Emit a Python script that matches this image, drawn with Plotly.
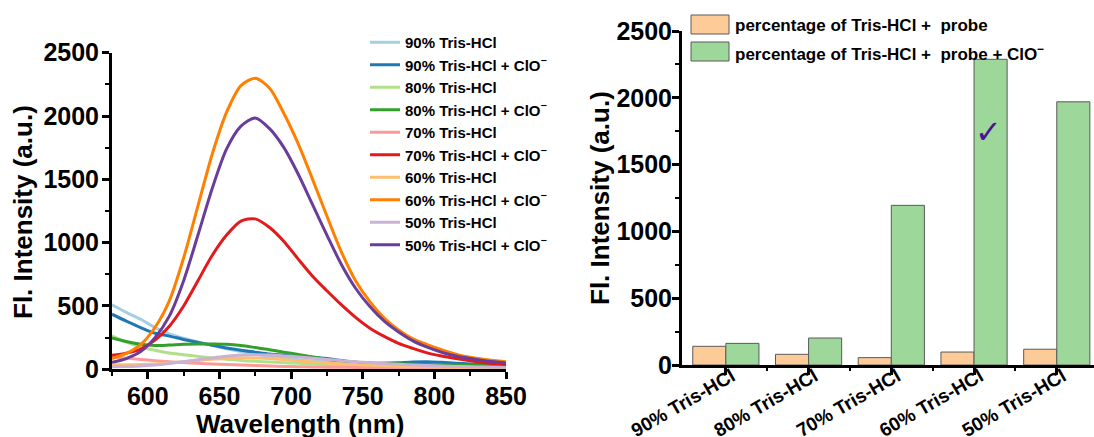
import plotly.graph_objects as go

# ---------------- data ----------------
wavelength = [575, 585, 595, 605, 615, 625, 635, 645, 655, 665, 675, 685, 695, 705,
              715, 725, 735, 745, 755, 765, 775, 785, 795, 805, 815, 825, 835, 845, 850]

tris90 = [510, 450, 395, 330, 280, 245, 215, 190, 162, 140, 120, 102, 88, 75,
          65, 57, 50, 44, 38, 34, 30, 27, 24, 22, 20, 18, 16, 15, 15]
tris90_clo = [435, 380, 330, 285, 262, 235, 212, 190, 168, 150, 135, 120, 112, 103,
              95, 85, 70, 55, 47, 48, 52, 58, 60, 55, 48, 42, 38, 35, 34]
tris80 = [265, 215, 178, 150, 128, 115, 102, 90, 80, 70, 63, 58, 52, 47,
          42, 37, 33, 29, 26, 23, 21, 19, 17, 16, 15, 14, 13, 12, 12]
tris80_clo = [248, 220, 198, 188, 192, 198, 200, 200, 198, 188, 172, 155, 135, 118,
              98, 80, 65, 56, 50, 47, 44, 40, 37, 35, 34, 33, 32, 31, 30]
tris70 = [100, 88, 78, 68, 60, 53, 47, 42, 38, 34, 30, 26, 23, 21,
          19, 17, 16, 15, 14, 13, 12, 12, 11, 11, 10, 10, 10, 10, 10]
tris70_clo = [110, 128, 160, 230, 340, 500, 700, 900, 1060, 1170, 1188, 1120, 1010, 870,
              735, 620, 510, 410, 325, 260, 205, 165, 130, 105, 85, 67, 52, 40, 35]
tris60 = [35, 35, 37, 42, 50, 60, 70, 80, 88, 92, 90, 85, 76, 67,
          58, 50, 43, 37, 32, 28, 24, 21, 19, 17, 15, 14, 13, 12, 12]
tris60_clo = [85, 125, 195, 330, 540, 880, 1290, 1700, 2030, 2240, 2298, 2220, 2020, 1780,
              1500, 1210, 930, 700, 535, 405, 310, 240, 195, 155, 120, 95, 78, 65, 60]
tris50 = [20, 22, 26, 34, 46, 60, 75, 90, 103, 112, 115, 112, 106, 98,
          88, 78, 68, 60, 52, 45, 39, 34, 30, 26, 23, 20, 18, 16, 15]
tris50_clo = [55, 85, 140, 250, 420, 700, 1060, 1430, 1740, 1920, 1985, 1900, 1750, 1540,
              1300, 1060, 830, 640, 495, 380, 295, 225, 175, 135, 105, 85, 68, 55, 50]

series_names = ["90% Tris-HCl", "90% Tris-HCl + ClO<sup>−</sup>",
                "80% Tris-HCl", "80% Tris-HCl + ClO<sup>−</sup>",
                "70% Tris-HCl", "70% Tris-HCl + ClO<sup>−</sup>",
                "60% Tris-HCl", "60% Tris-HCl + ClO<sup>−</sup>",
                "50% Tris-HCl", "50% Tris-HCl + ClO<sup>−</sup>"]
series_values = [tris90, tris90_clo, tris80, tris80_clo, tris70, tris70_clo,
                 tris60, tris60_clo, tris50, tris50_clo]
series_colors = ["#A6CEE3", "#1F78B4", "#B2DF8A", "#33A02C", "#FB9A99",
                 "#E31A1C", "#FDBF6F", "#FF7F00", "#CAB2D6", "#6A3D9A"]

categories = ["90% Tris-HCl", "80% Tris-HCl", "70% Tris-HCl", "60% Tris-HCl", "50% Tris-HCl"]
probe = [140, 80, 55, 97, 118]
probe_clo = [162, 202, 1195, 2288, 1970]

bar_names = ["percentage of Tris-HCl +  probe",
             "percentage of Tris-HCl +  probe + ClO<sup>−</sup>"]
bar_colors = ["#FDCB98", "#9DD79A"]

# ---------------- figure ----------------
W, H = 1094, 437
FONT = "Liberation Sans, Arial, sans-serif"


def fx(p):
    return p / W


def fy(p):
    return 1 - p / H


fig = go.Figure()

for name, vals, color in zip(series_names, series_values, series_colors):
    fig.add_trace(go.Scatter(
        x=wavelength, y=vals, mode="lines", name=name,
        line=dict(color=color, width=3, shape="spline", smoothing=0.8),
        xaxis="x", yaxis="y", legend="legend",
    ))

cat_pos = list(range(len(categories)))
for name, vals, color in zip(bar_names, [probe, probe_clo], bar_colors):
    fig.add_trace(go.Bar(
        x=cat_pos, y=vals, name=name, showlegend=False,
        marker=dict(color=color, line=dict(color="#5a5a5a", width=1)),
        xaxis="x2", yaxis="y2",
    ))

axis_common = dict(
    showline=True, linewidth=3, linecolor="black", mirror=False,
    ticks="outside", ticklen=7, tickwidth=2.5, tickcolor="black",
    showgrid=False, zeroline=False, automargin=False,
)

fig.update_layout(
    template="none",
    width=W, height=H,
    margin=dict(l=0, r=0, t=0, b=0, pad=0),
    paper_bgcolor="white", plot_bgcolor="white",
    font=dict(family=FONT, color="black", weight="bold"),
    barmode="group", bargap=0.2, bargroupgap=0,
    xaxis=dict(
        domain=[fx(112), fx(506)], range=[575, 850], anchor="y",
        tick0=600, dtick=50, tickfont=dict(size=25, weight="bold"), ticklabelstandoff=-4,
        minor=dict(dtick=25, tick0=575, ticks="outside", ticklen=4, tickwidth=2, tickcolor="black"),
        **axis_common,
    ),
    yaxis=dict(
        domain=[fy(369.3), fy(52.7)], range=[0, 2500], anchor="x",
        dtick=500, tickfont=dict(size=25, weight="bold"), ticklabelstandoff=-2,
        minor=dict(dtick=250, ticks="outside", ticklen=4, tickwidth=2, tickcolor="black"),
        **axis_common,
    ),
    xaxis2=dict(
        domain=[fx(682), 1.0], range=[-0.53, 4.45], anchor="y2",
        tickmode="array", tickvals=cat_pos, ticktext=categories, tickangle=-30,
        tickfont=dict(size=19, weight="bold"), ticklabelstandoff=-17, ticklabelshift=6,
        minor=dict(tickvals=[0.5, 1.5, 2.5, 3.5], ticks="outside", ticklen=3, tickwidth=2, tickcolor="black"),
        **axis_common,
    ),
    yaxis2=dict(
        domain=[fy(365), fy(31)], range=[0, 2500], anchor="x2",
        dtick=500, tickfont=dict(size=25, weight="bold"), ticklabelstandoff=-5,
        minor=dict(dtick=250, ticks="outside", ticklen=4, tickwidth=2, tickcolor="black"),
        **axis_common,
    ),
    legend=dict(
        x=fx(365), y=fy(26), xanchor="left", yanchor="top",
        bgcolor="rgba(0,0,0,0)", borderwidth=0,
        font=dict(size=15, family=FONT, weight="bold"),
        tracegroupgap=0,
    ),
)

# axis titles
fig.add_annotation(text="Fl. Intensity (a.u.)", xref="paper", yref="paper",
                   x=fx(23), y=fy(212), xanchor="center", yanchor="middle",
                   textangle=-90, showarrow=False,
                   font=dict(size=26, family=FONT, weight="bold"))
fig.add_annotation(text="Wavelength (nm)", xref="paper", yref="paper",
                   x=fx(300), y=fy(424), xanchor="center", yanchor="middle",
                   showarrow=False,
                   font=dict(size=26, family=FONT, weight="bold"))
fig.add_annotation(text="Fl. Intensity (a.u.)", xref="paper", yref="paper",
                   x=fx(600), y=fy(198), xanchor="center", yanchor="middle",
                   textangle=-90, showarrow=False,
                   font=dict(size=26, family=FONT, weight="bold"))

# legend swatches and labels for the bar chart
swatch_rows = [(15, 34), (42, 61)]
for (top, bot), name, color in zip(swatch_rows, bar_names, bar_colors):
    fig.add_shape(type="rect", xref="paper", yref="paper",
                  x0=fx(691), x1=fx(729), y0=fy(bot), y1=fy(top),
                  fillcolor=color, line=dict(color="#5a5a5a", width=1))
    fig.add_annotation(text=name, xref="paper", yref="paper",
                       x=fx(733), y=fy((top + bot) / 2 + 1), xanchor="left", yanchor="middle",
                       showarrow=False, font=dict(size=17, family=FONT, weight="bold"))

# check mark on the best-performing bar
fig.add_annotation(text="✓", xref="x2", yref="y2", x=3.18, y=1745, showarrow=False,
                   xanchor="center", yanchor="middle",
                   font=dict(size=32, family="DejaVu Sans", color="#4B1590"))

fig.write_html("out.html")
